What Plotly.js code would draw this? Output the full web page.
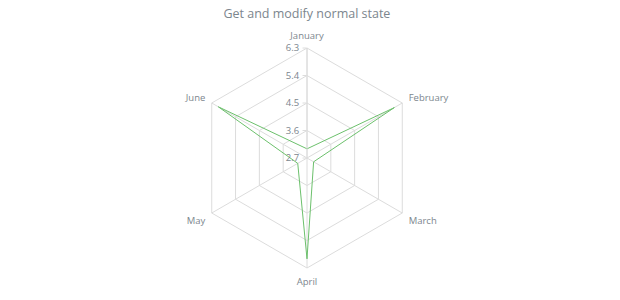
<!DOCTYPE html>
<html>
<head>
<meta charset="utf-8">
<script src="https://cdn.plot.ly/plotly-3.0.1.min.js"></script>
<style>
  html, body { margin: 0; padding: 0; background: #fff; }
  #chart { width: 620px; height: 300px; }
</style>
</head>
<body>
<div id="chart"></div>
<script>
// Monthly values plotted on a hexagonal radar
const months = ["January", "February", "March", "April", "May", "June"];
const values = [3.0, 6.0, 2.95, 6.0, 3.05, 6.05];
const radialTicks = [2.7, 3.6, 4.5, 5.4, 6.3];

const gridColor = "#dcdcdc";
const textColor = "#7c868e";

// close the polygon by repeating the first point
const theta = months.concat([months[0]]);
const r = values.concat([values[0]]);

const data = [{
  type: "scatterpolar",
  mode: "lines",
  theta: theta,
  r: r,
  line: { color: "#6cc06c", width: 1 },
  fill: "none",
  hoverinfo: "skip"
}];

const layout = {
  width: 620,
  height: 300,
  margin: { l: 197, r: 203, t: 48, b: 32 },
  paper_bgcolor: "#ffffff",
  showlegend: false,
  font: { family: "Open Sans, sans-serif", color: textColor, size: 9.5 },
  title: {
    text: "Get and modify normal state",
    font: { family: "Open Sans, sans-serif", size: 12.5, color: textColor },
    x: 0.495,
    xanchor: "center",
    y: 0.955,
    yanchor: "middle"
  },
  polar: {
    bgcolor: "#ffffff",
    gridshape: "linear",
    angularaxis: {
      rotation: 90,
      direction: "clockwise",
      showline: true,
      linecolor: gridColor,
      linewidth: 1,
      gridcolor: gridColor,
      // invisible ticks push the month labels a little off the vertices
      ticks: "outside",
      ticklen: 5,
      tickcolor: "rgba(0,0,0,0)",
      tickfont: { size: 9.5, color: textColor }
    },
    radialaxis: {
      range: [2.7, 6.3],
      tickvals: radialTicks,
      ticktext: radialTicks.map(v => v.toFixed(1)),
      angle: 90,
      tickangle: 90,
      side: "counterclockwise",
      showline: true,
      linecolor: gridColor,
      gridcolor: gridColor,
      ticks: "outside",
      ticklen: 4,
      tickcolor: gridColor,
      tickfont: { size: 9.5, color: textColor }
    }
  }
};

Plotly.newPlot("chart", data, layout, { staticPlot: true, displayModeBar: false });
</script>
</body>
</html>
